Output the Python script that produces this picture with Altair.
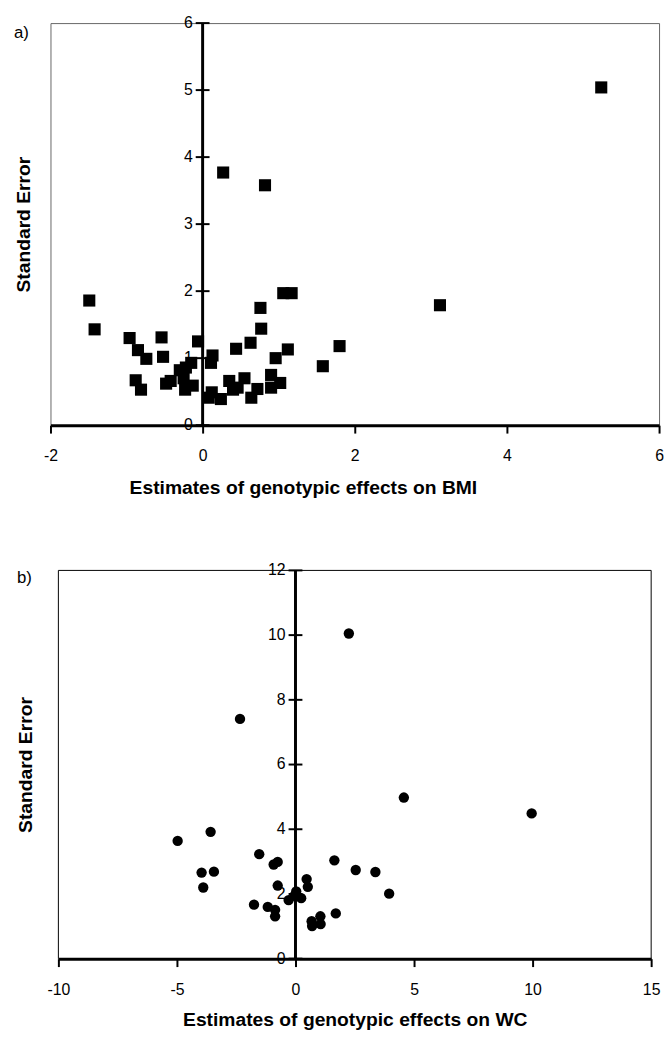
import altair as alt
import pandas as pd

# ---------------- data ----------------
bmi_effect = [5.24, 0.27, 0.82, -1.49, -1.42, 1.06, 1.17, 0.76, 0.77, 3.12,
              1.80, 1.58, -0.96, -0.54, -0.06, -0.85, -0.74, -0.52, 0.44, 0.63,
              1.12, 0.96, 0.13, 0.11, -0.15, -0.22, -0.30, -0.25, -0.88, -0.81,
              -0.48, -0.42, -0.23, -0.13, 0.08, 0.12, 0.24, 0.35, 0.40, 0.46,
              0.55, 0.64, 0.72, 0.90, 0.90, 1.02]
bmi_se = [5.04, 3.77, 3.58, 1.86, 1.43, 1.97, 1.97, 1.75, 1.44, 1.79,
          1.18, 0.88, 1.30, 1.31, 1.25, 1.12, 0.99, 1.02, 1.14, 1.23,
          1.13, 1.00, 1.04, 0.93, 0.93, 0.86, 0.82, 0.70, 0.67, 0.53,
          0.62, 0.66, 0.53, 0.59, 0.41, 0.49, 0.39, 0.66, 0.53, 0.56,
          0.70, 0.41, 0.54, 0.75, 0.56, 0.63]

wc_effect = [2.25, -2.34, 4.57, 9.96, -4.97, -3.58, -3.96, -3.44, -3.89, -1.53,
             -0.92, -0.75, -0.75, 1.64, 2.54, 3.37, 3.95, 0.47, 0.52, 0.03,
             0.24, -0.29, -0.05, -1.75, -1.17, -0.86, -0.86, 0.68, 0.70, 1.05,
             1.06, 1.70]
wc_se = [10.05, 7.41, 4.98, 4.49, 3.64, 3.92, 2.66, 2.69, 2.20, 3.23,
         2.91, 2.99, 2.26, 3.04, 2.74, 2.68, 2.01, 2.46, 2.22, 2.08,
         1.87, 1.81, 1.94, 1.67, 1.60, 1.51, 1.31, 1.16, 1.01, 1.31,
         1.07, 1.40]

bmi_xticks = [-2, 0, 2, 4, 6]
bmi_yticks = [0, 1, 2, 3, 4, 5, 6]
wc_xticks = [-10, -5, 0, 5, 10, 15]
wc_yticks = [0, 2, 4, 6, 8, 10, 12]

FONT = "Liberation Sans"


def panel(xs, ys, xdom, ydom, xticks, yticks, shape, size, xtitle, letter,
          width, height, frame, ytitle_pad, xtitle_x, letter_x, letter_y,
          xtitle_pad, xrange=None):
    df = pd.DataFrame({"x": xs, "se": ys})
    if xrange is None:
        xsc = alt.Scale(domain=xdom, nice=False, zero=False)
    else:
        xsc = alt.Scale(domain=xdom, nice=False, zero=False, range=xrange)
    ysc = alt.Scale(domain=ydom, nice=False, zero=False)

    xaxis_kw = dict(values=xticks, title=xtitle, grid=False,
                    labelExpr="datum.value + ''",
                    domainColor="black", domainWidth=3,
                    tickColor="black", tickWidth=2, tickSize=8,
                    labelFont=FONT, labelFontSize=16, labelColor="black",
                    labelPadding=15, labelFlush=False,
                    titleFont=FONT, titleFontSize=19.5, titleFontWeight="bold",
                    titleColor="black", titlePadding=xtitle_pad)
    if xtitle_x is not None:
        xaxis_kw["titleX"] = xtitle_x
    xaxis = alt.Axis(**xaxis_kw)
    yaxis = alt.Axis(title="Standard Error", labels=False, ticks=False,
                     domain=False, grid=False, titleFont=FONT,
                     titleFontSize=19.5, titleFontWeight="bold",
                     titleColor="black", titlePadding=ytitle_pad)

    yt = pd.DataFrame({"v": yticks})
    box = pd.DataFrame({"x0": [xdom[0]], "x1": [xdom[1]],
                        "y0": [ydom[0]], "y1": [ydom[1]]})

    layers = []
    if xrange is not None:
        # plot frame drawn as a mark, since the panel is shifted inside its view
        layers.append(alt.Chart(box).mark_rect(
            filled=False, stroke=frame, strokeWidth=1).encode(
            x=alt.X("x0:Q", scale=xsc, axis=xaxis), x2="x1:Q",
            y=alt.Y("y0:Q", scale=ysc, axis=yaxis), y2="y1:Q"))
        vline_x = alt.datum(0)
        vline_y = alt.Y("y0:Q")
    else:
        vline_x = alt.datum(0, scale=xsc, axis=xaxis, type="quantitative")
        vline_y = alt.Y("y0:Q", scale=ysc, axis=yaxis)

    labels = alt.Chart(yt).mark_text(align="right", baseline="middle", dx=-10,
                                     font=FONT, fontSize=16,
                                     color="black").encode(
        x=alt.datum(0), y="v:Q", text="v:Q")
    vline = alt.Chart(box).mark_rule(color="black", strokeWidth=3).encode(
        x=vline_x, y=vline_y, y2="y1:Q")
    ticks = alt.Chart(yt).mark_rule(color="black", strokeWidth=2,
                                    xOffset=-7, x2Offset=7).encode(
        x=alt.datum(0), x2=alt.datum(0), y="v:Q")
    pts = alt.Chart(df).mark_point(shape=shape, filled=True, size=size,
                                   color="black", opacity=1,
                                   strokeWidth=0).encode(
        x="x:Q", y="se:Q")
    lab = alt.Chart(pd.DataFrame({"t": [letter]})).mark_text(
        align="left", baseline="middle", font=FONT, fontSize=17,
        color="black").encode(
        x=alt.value(letter_x), y=alt.value(letter_y), text="t:N")
    layers += [labels, vline, ticks, pts, lab]

    if xrange is None:
        view = alt.ViewBackground(stroke=frame, strokeWidth=1, fill="white")
    else:
        view = alt.ViewBackground(stroke="transparent", fill="white")
    return alt.layer(*layers).properties(width=width, height=height, view=view)


pa = panel(bmi_effect, bmi_se, [-2, 6], [0, 6], bmi_xticks, bmi_yticks,
           "square", 150, "Estimates of genotypic effects on BMI", "a)",
           616, 407, "#666666", 17, 255.5, -37, 10, 15)
pb = panel(wc_effect, wc_se, [-10, 15], [0, 12], wc_xticks, wc_yticks,
           "circle", 110, "Estimates of genotypic effects on WC", "b)",
           608, 393, "black", 15, None, -34, 8, 14, xrange=[8, 608])

chart = alt.concat(pa, pb, columns=1, spacing=65,
                   padding={"left": 5, "top": 0, "right": 0, "bottom": 0}
                   ).configure(background="white")

chart.save("out.html", embed_options={"renderer": "svg", "actions": False})
